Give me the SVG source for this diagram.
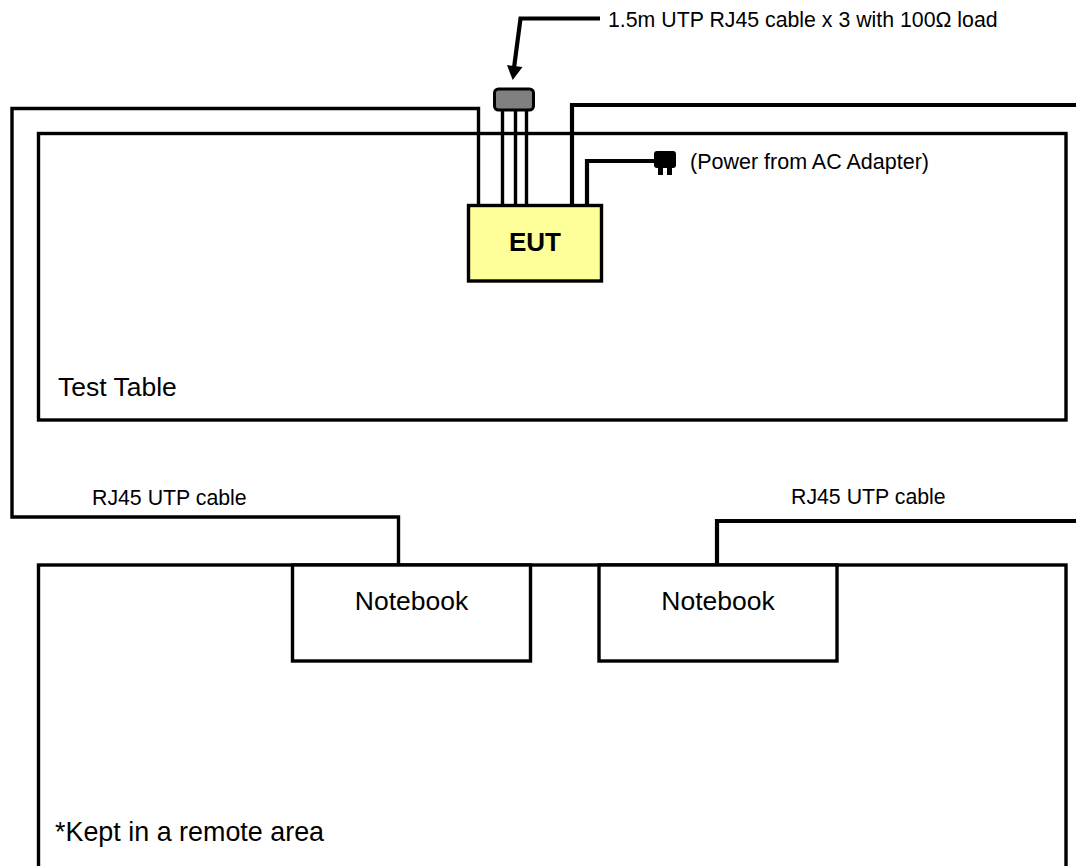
<svg xmlns="http://www.w3.org/2000/svg" width="1076" height="866" viewBox="0 0 1076 866">
<style>
.box{fill:#fff;stroke:#000;stroke-width:3.400}
.w{fill:none;stroke:#000;stroke-width:3.400}
.h{fill:none;stroke:#000;stroke-width:4.200}
.t{font-family:"Liberation Sans",Arial,sans-serif;fill:#000}
.s{font-size:21.3px}
.m{font-size:26.500px}
</style>
<rect width="1076" height="866" fill="#fff"/>
<g id="test-table"><rect class="box" x="38.500" y="133.500" width="1027.500" height="286.500"/><text class="t m" x="58" y="396">Test Table</text></g>
<g id="remote-area"><rect class="box" x="38.500" y="565" width="1027.500" height="320"/><text class="t" font-size="26.900" x="55" y="841">*Kept in a remote area</text></g>
<g id="connectors">
<path class="w" d="M478.500 205V108.500H12V517H398.500V565"/>
<path class="h" d="M572 205V105H1078"/>
<path class="h" d="M717 565V521H1078"/>
<path class="w" d="M502.500 110V205M515.500 110V205M526.500 110V205"/>
<path class="h" d="M587 205V161H655"/>
<path class="h" d="M600 18.500H520.500L514 68"/>
<path d="M507 65L522.500 67L512.700 80Z" fill="#000"/>
</g>
<g id="load"><rect x="494.500" y="89" width="39" height="21" rx="4" fill="#808080" stroke="#000" stroke-width="3"/></g>
<g id="eut"><rect x="468.500" y="205.500" width="133" height="75.500" fill="#ffff99" stroke="#000" stroke-width="3.400"/><text class="t" x="535" y="250.500" text-anchor="middle" font-size="26" font-weight="700">EUT</text></g>
<g id="plug"><rect x="654" y="151" width="22" height="17" rx="3" fill="#000"/><rect x="658" y="166" width="5" height="9" fill="#000"/><rect x="667" y="166" width="5" height="9" fill="#000"/></g>
<g id="notebook-1"><rect class="box" x="292.500" y="565" width="238" height="96"/><text class="t m" x="411.500" y="610" text-anchor="middle">Notebook</text></g>
<g id="notebook-2"><rect class="box" x="599" y="565" width="238" height="96"/><text class="t m" x="718" y="610" text-anchor="middle">Notebook</text></g>
<g id="labels">
<text class="t s" x="608" y="27">1.5m UTP RJ45 cable x 3 with 100Ω load</text>
<text class="t" font-size="21.500" x="690" y="169">(Power from AC Adapter)</text>
<text class="t s" x="92" y="505">RJ45 UTP cable</text>
<text class="t s" x="791" y="504">RJ45 UTP cable</text>
</g>
</svg>
